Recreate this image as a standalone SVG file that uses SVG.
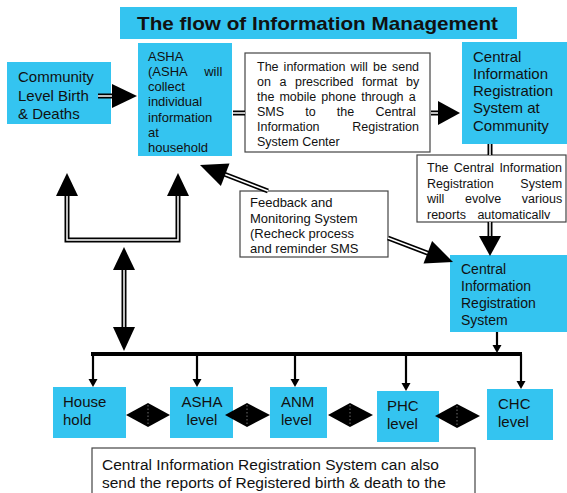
<svg xmlns="http://www.w3.org/2000/svg" width="567" height="493" viewBox="0 0 567 493">
<style>
.cy{fill:#34C4F0}
.wb{fill:#fff;stroke:#444;stroke-width:1.2}
text{font-family:"Liberation Sans",Arial,sans-serif;fill:#111}
.t15{font-size:15px}
.t14{font-size:14px}
.t13{font-size:13px}
.t12{font-size:12.5px}
.tb{font-size:15.5px}
.title{font-size:19px;font-weight:bold}
.dbl{fill:none;stroke:#000;stroke-width:5}
.dbli{fill:none;stroke:#fff;stroke-width:1.5}
.thin{fill:none;stroke:#000;stroke-width:2.2}
.bus{fill:none;stroke:#000;stroke-width:4}
.head{fill:#000}
.dot{stroke:#bbb;stroke-width:0.6;stroke-dasharray:1.5 2}
</style>
<defs>
<clipPath id="clipNote2"><rect x="418" y="156" width="149" height="63"/></clipPath>
</defs>
<rect width="567" height="493" fill="#fff"/>

<g id="title">
<rect class="cy" x="120" y="7" width="397" height="32"/>
<text class="title" x="137" y="30" textLength="361" lengthAdjust="spacingAndGlyphs">The flow of Information Management</text>
</g>

<g id="community">
<rect class="cy" x="7" y="62" width="104" height="62"/>
<text class="t15" x="18" y="82">Community</text>
<text class="t15" x="18" y="101">Level Birth</text>
<text class="t15" x="18" y="119">&amp; Deaths</text>
</g>

<g id="asha">
<rect class="cy" x="138" y="43" width="94" height="113"/>
<text class="t13" x="148" y="61">ASHA</text>
<text class="t13" x="148" y="76" word-spacing="13.6">(ASHA will</text>
<text class="t13" x="148" y="91">collect</text>
<text class="t13" x="148" y="106">individual</text>
<text class="t13" x="148" y="122">information</text>
<text class="t13" x="148" y="137">at</text>
<text class="t13" x="148" y="152">household</text>
</g>

<g id="sms-note">
<rect class="wb" x="245" y="53" width="185" height="99"/>
<text class="t12" x="257" y="71" word-spacing="1.6">The information will be send</text>
<text class="t12" x="257" y="86" word-spacing="5.1">on a prescribed format by</text>
<text class="t12" x="257" y="101" word-spacing="1.6">the mobile phone through a</text>
<text class="t12" x="257" y="116" word-spacing="17.7">SMS to the Central</text>
<text class="t12" x="257" y="131" word-spacing="29.3">Information Registration</text>
<text class="t12" x="257" y="146">System Center</text>
</g>

<g id="cirs-community">
<rect class="cy" x="462" y="42" width="105" height="102"/>
<text class="t15" x="473" y="62">Central</text>
<text class="t15" x="473" y="79">Information</text>
<text class="t15" x="473" y="96">Registration</text>
<text class="t15" x="473" y="113">System at</text>
<text class="t15" x="473" y="131">Community</text>
</g>

<g id="reports-note">
<rect class="wb" x="417" y="155" width="149" height="67"/>
<g clip-path="url(#clipNote2)">
<text class="t12" x="427" y="172" word-spacing="1.8">The Central Information</text>
<text class="t12" x="427" y="188" word-spacing="23.2">Registration System</text>
<text class="t12" x="427" y="203" word-spacing="17.2">will evolve various</text>
<text class="t12" x="427" y="219" word-spacing="8">reports automatically</text>
</g>
</g>

<g id="feedback-note">
<rect class="wb" x="240" y="191" width="148" height="66"/>
<text class="t13" x="250" y="207">Feedback and</text>
<text class="t13" x="250" y="223">Monitoring System</text>
<text class="t13" x="250" y="238">(Recheck process</text>
<text class="t13" x="250" y="253">and reminder SMS</text>
</g>

<g id="cirs">
<rect class="cy" x="450" y="255" width="117" height="77"/>
<text class="t14" x="461" y="274">Central</text>
<text class="t14" x="461" y="291">Information</text>
<text class="t14" x="461" y="308">Registration</text>
<text class="t14" x="461" y="325">System</text>
</g>

<g id="household">
<rect class="cy" x="53" y="387" width="73" height="51"/>
<text class="t15" x="63" y="407">House</text>
<text class="t15" x="63" y="425">hold</text>
</g>
<g id="asha-level">
<rect class="cy" x="170" y="387" width="63" height="51"/>
<text class="t15" x="202" y="407" text-anchor="middle">ASHA</text>
<text class="t15" x="202" y="425" text-anchor="middle">level</text>
</g>
<g id="anm-level">
<rect class="cy" x="270" y="387" width="57" height="51"/>
<text class="t15" x="281" y="407">ANM</text>
<text class="t15" x="281" y="425">level</text>
</g>
<g id="phc-level">
<rect class="cy" x="377" y="391" width="62" height="51"/>
<text class="t15" x="387" y="411">PHC</text>
<text class="t15" x="387" y="429">level</text>
</g>
<g id="chc-level">
<rect class="cy" x="487" y="389" width="66" height="51"/>
<text class="t15" x="498" y="409">CHC</text>
<text class="t15" x="498" y="427">level</text>
</g>

<g id="bottom-note">
<rect class="wb" x="92" y="448" width="383" height="60"/>
<text class="tb" x="102" y="470">Central Information Registration System can also</text>
<text class="tb" x="102" y="488">send the reports of Registered birth &amp; death to the</text>
</g>

<g id="connectors">
<path class="dbl" d="M98,96 H113"/><path class="dbli" d="M98,96 H113"/>
<polygon class="head" points="112,84 137,96 112,108"/>
<path class="dbl" d="M233,113 H245"/><path class="dbli" d="M233,113 H245"/>
<path class="dbl" d="M431,113 H440"/><path class="dbli" d="M431,113 H440"/>
<polygon class="head" points="438,101 460,113 438,125"/>
<path class="dbl" d="M490,144 V155"/><path class="dbli" d="M490,144 V155"/>
<path class="dbl" d="M490,222 V238"/><path class="dbli" d="M490,222 V238"/>
<polygon class="head" points="479,236 501,236 490,256"/>
<path class="dbl" d="M224,174 L268,191"/><path class="dbli" d="M224,174 L268,191"/>
<path class="dbl" d="M388,238 L430,254"/><path class="dbli" d="M388,238 L430,254"/>
<polygon class="head" points="200,165 229.5,163.5 220.9,185.9"/>
<polygon class="head" points="453,262 432.1,241.1 423.5,263.5"/>
<path class="dbl" d="M67,194 V240 H178 V194"/><path class="dbli" d="M67,194 V240 H178 V194"/>
<polygon class="head" points="67,173 56,196 78,196"/>
<polygon class="head" points="178,173 167,196 189,196"/>
<path class="dbl" d="M124,268 V329"/><path class="dbli" d="M124,268 V329"/>
<polygon class="head" points="124,247 113,270 135,270"/>
<polygon class="head" points="124,351 113,327 135,327"/>
<path class="thin" d="M497,332 V346"/>
<polygon class="head" points="492.5,345 501.5,345 497,353"/>
<path class="bus" d="M91,354 H522"/>
<path class="thin" d="M93,354 V380"/><polygon class="head" points="88.5,379 97.5,379 93,387"/>
<path class="thin" d="M197,354 V380"/><polygon class="head" points="192.5,379 201.5,379 197,387"/>
<path class="thin" d="M295,354 V380"/><polygon class="head" points="290.5,379 299.5,379 295,387"/>
<path class="thin" d="M406,354 V384"/><polygon class="head" points="401.5,383 410.5,383 406,391"/>
<path class="thin" d="M521,354 V382"/><polygon class="head" points="516.5,381 525.5,381 521,389"/>
<polygon class="head" points="126,415 148,403 170,415 148,427"/><path class="dot" d="M148,405 V425"/>
<polygon class="head" points="225,415 247,403 270,415 247,427"/><path class="dot" d="M247,405 V425"/>
<polygon class="head" points="328,415 350,403 373,415 350,427"/><path class="dot" d="M350,405 V425"/>
<polygon class="head" points="435,416 457,404 480,416 457,428"/><path class="dot" d="M457,406 V426"/>
</g>
</svg>
